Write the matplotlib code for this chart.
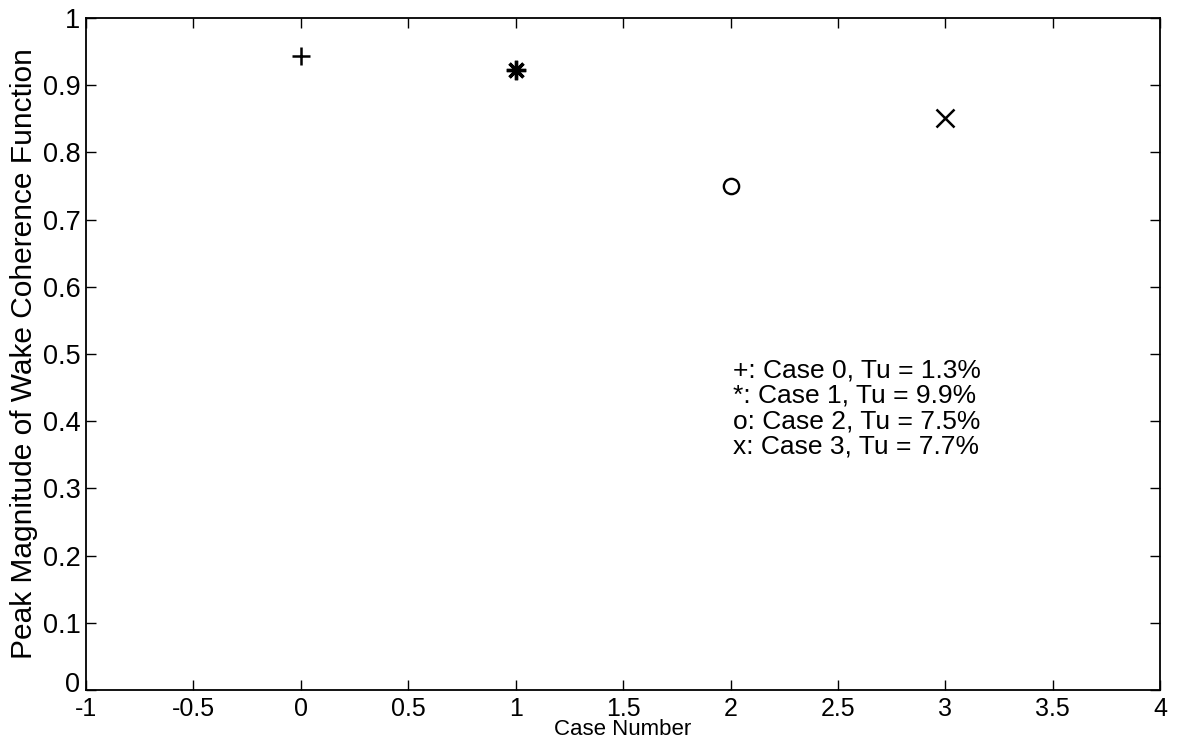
import matplotlib
matplotlib.use("Agg")
import matplotlib.pyplot as plt
from matplotlib.transforms import ScaledTranslation

plt.rcParams['font.family'] = ['Liberation Sans', 'DejaVu Sans']

cases = [0, 1, 2, 3]
peak = [0.943, 0.922, 0.750, 0.851]
markers = ['+', '*', 'o', 'x']
legend_lines = ["+: Case 0, Tu = 1.3%", "*: Case 1, Tu = 9.9%",
                "o: Case 2, Tu = 7.5%", "x: Case 3, Tu = 7.7%"]
xticks = [-1, -0.5, 0, 0.5, 1, 1.5, 2, 2.5, 3, 3.5, 4]
xticklabels = ['-1', '-0.5', '0', '0.5', '1', '1.5', '2', '2.5', '3', '3.5', '4']
yticks = [0, 0.1, 0.2, 0.3, 0.4, 0.5, 0.6, 0.7, 0.8, 0.9, 1]
yticklabels = ['0', '0.1', '0.2', '0.3', '0.4', '0.5', '0.6', '0.7', '0.8', '0.9', '1']

fig = plt.figure(figsize=(11.83, 7.4), dpi=100)
ax = fig.add_axes([0.0727, 0.0676, 0.908, 0.908])

for c, p, m in zip(cases, peak, markers):
    if m == 'o':
        ax.plot(c, p, marker=m, markersize=11, markerfacecolor='none',
                markeredgecolor='black', markeredgewidth=1.7, linestyle='none')
    elif m == '*':
        ax.plot(c, p, marker=(8, 2, 0), markersize=14, color='black',
                markeredgewidth=2.4, linestyle='none')
    else:
        ax.plot(c, p, marker=m, markersize=13, color='black',
                markeredgewidth=1.8, linestyle='none')

ax.set_xlim(-1, 4)
ax.set_ylim(0, 1)
ax.set_xticks(xticks)
ax.set_xticklabels(xticklabels)
ax.set_yticks(yticks)
ax.set_yticklabels(yticklabels)
ax.tick_params(direction='in', length=7, width=1, top=True, right=True)
ax.tick_params(axis='x', pad=5, labelsize=18)
ax.tick_params(axis='y', pad=4, labelsize=19.5)
for s in ax.spines.values():
    s.set_linewidth(1.3)

# raise the "0" y tick label slightly, as in the reference
zero_lbl = ax.yaxis.get_major_ticks()[0].label1
zero_lbl.set_transform(zero_lbl.get_transform() +
                       ScaledTranslation(0, 6 / 72, fig.dpi_scale_trans))

ax.set_xlabel('Case Number', fontsize=16)
ax.xaxis.set_label_coords(0.5, -0.067)
ax.xaxis.label.set_va('baseline')
ax.set_ylabel('Peak Magnitude of Wake Coherence Function', fontsize=21.5, labelpad=3)

ys = [0.476, 0.438, 0.400, 0.362]
for t, y in zip(legend_lines, ys):
    ax.text(2.012, y, t, fontsize=19, va='center', ha='left')

fig.savefig('out.png', dpi=100)
